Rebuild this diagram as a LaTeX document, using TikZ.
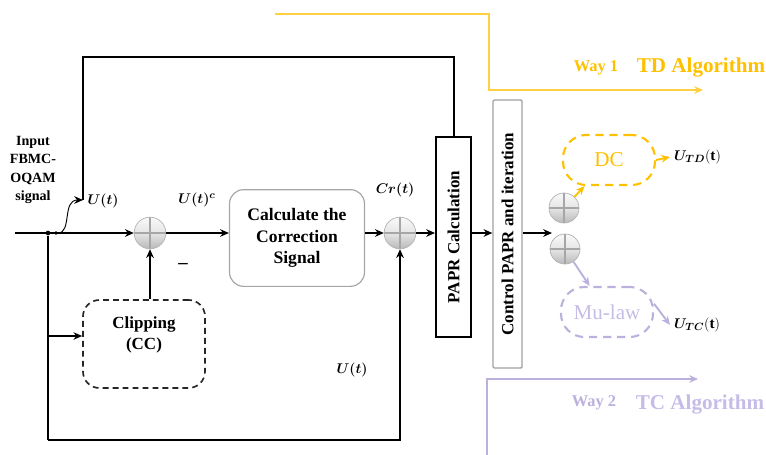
\documentclass[tikz,border=0pt]{standalone}
\usepackage{amsmath,amssymb}
\usepackage{fontspec}
\setmainfont{Liberation Serif}
\usepackage{tikz}
\usetikzlibrary{arrows.meta,positioning,calc}
\definecolor{tdgold}{HTML}{FFC000}
\definecolor{tcline}{HTML}{BCB0DC}
\definecolor{tctext}{HTML}{C6BCE8}

\begin{document}
\begin{tikzpicture}[
    x=0.03cm, y=-0.03cm,
    >={Stealth[length=7.5pt,width=6.5pt]},
    wire/.style={line width=1.7pt},
    sumnode/.style={circle, draw=gray!60, line width=0.6pt, top color=gray!5, bottom color=gray!55,
        middle color=gray!20, minimum size=#1, inner sep=0pt,
        path picture={\draw[gray!70, line width=0.9pt]
            (path picture bounding box.north) -- (path picture bounding box.south)
            (path picture bounding box.west) -- (path picture bounding box.east);}},
    sumnode/.default=0.95cm,
    dot/.style={circle, fill=black, inner sep=0pt, minimum size=4pt},
    calcbox/.style={draw=gray!70, line width=1pt, rounded corners=12pt, align=center,
        font=\fontsize{15}{18.5}\selectfont\bfseries, minimum width=4.05cm, minimum height=2.9cm},
    clipbox/.style={draw=black!85, line width=1.4pt, dash pattern=on 5pt off 3.5pt, rounded corners=14pt,
        align=center, font=\fontsize{14.5}{18}\selectfont\bfseries, minimum width=3.66cm, minimum height=2.64cm},
    paprbox/.style={draw, line width=1.7pt, rotate=90, inner sep=1pt,
        font=\fontsize{14.5}{17}\selectfont\bfseries, minimum width=6cm, minimum height=1.05cm},
    ctrlbox/.style={draw=gray!75, line width=1.1pt, rotate=90, inner sep=1pt, rounded corners=1pt,
        font=\fontsize{14.5}{17}\selectfont\bfseries, minimum width=8.04cm, minimum height=0.87cm},
    dcbox/.style={draw=tdgold, text=tdgold, line width=1.8pt, dash pattern=on 7pt off 5pt,
        rounded corners=0.7cm, font=\fontsize{18}{20}\selectfont, minimum width=2.76cm, minimum height=1.5cm},
    mubox/.style={dcbox, draw=tcline, text=tctext},
    siglabel/.style={font=\fontsize{13}{15}\selectfont},
    waylabel/.style={font=\fontsize{14}{16}\selectfont\bfseries},
    alglabel/.style={font=\fontsize{18}{20}\selectfont\bfseries}
]
    \useasboundingbox (0,0) rectangle (766,455);

    % Input and taps
    \coordinate (in) at (15,233);
    \node[dot] (j1) at (48,233) {};
    \node[dot, minimum size=3pt] (j2) at (56,233) {};
    \node[align=center, font=\fontsize{12}{15.7}\selectfont\bfseries] (input) at (33,170) {Input\\FBMC-\\OQAM\\signal};

    % Blocks
    \node[sumnode] (s1) at (150,233) {};
    \node[calcbox] (calc) at (297,238) {Calculate the\\Correction\\Signal};
    \node[sumnode] (s2) at (400,233) {};
    \node[clipbox] (clip) at (144,344) {Clipping\\(CC)\\~};
    \node[paprbox] (papr) at (453.5,237) {PAPR Calculation};
    \node[ctrlbox] (ctrl) at (507.5,234) {Control PAPR and iteration};

    % Two ways out
    \node[sumnode=0.9cm] (s3) at (564,208) {};
    \node[sumnode=0.9cm] (s4) at (565,249) {};
    \node[dcbox] (dc) at (609,160) {DC};
    \node[mubox] (mu) at (607,312) {Mu-law};
    \node[siglabel, anchor=west] (utd) at (670,157) {$\boldsymbol{U_{TD}}\mathbf{(t)}$};
    \node[siglabel, anchor=west] (utc) at (670,325) {$\boldsymbol{U_{TC}}\mathbf{(t)}$};

    % Signal labels
    \node[siglabel] (lu1) at (103,201) {$\boldsymbol{U(t)}$};
    \node[siglabel] (luc) at (197,200) {$\boldsymbol{U(t)^{c}}$};
    \node[siglabel] (lcr) at (395,190) {$\boldsymbol{Cr(t)}$};
    \node[siglabel] (lu2) at (352,370) {$\boldsymbol{U(t)}$};
    \node[font=\fontsize{16}{18}\selectfont\bfseries] (minus) at (183,266) {--};

    % Forward path
    \draw[wire,->] (in) -- (s1);
    \draw[wire,->] (s1) -- (s1 -| calc.west);
    \draw[wire,->] (calc.east |- s2) -- (s2);
    \draw[wire,->] (s2) -- (s2 -| papr.north);   % rotated: north is the left side
    \draw[wire,->] (papr.south |- s2) -- (s2 -| ctrl.north);
    \coordinate (sp) at (552,233);
    \draw[wire,->] (ctrl.south |- s2) -- (sp);

    % Feedback from the PAPR block
    \coordinate (fb) at (83,200);
    \coordinate (fbtop) at (83,57);
    \draw[wire] (papr.east) |- (fbtop) -- (fb);
    \draw[line width=0.8pt,->] (j2) .. controls (72,233) and (62,200) .. (fb);

    % Clipping branch
    \coordinate (cl) at (48,336);
    \coordinate (bot) at (48,440);
    \draw[wire] (j1) -- (bot);
    \draw[wire,->] (cl) -- (cl -| clip.west);
    \draw[wire,->] (clip.north -| s1) -- (s1);
    \draw[wire,->] (bot) -| (s2);

    % Way 1 / Way 2 outputs
    \draw[->, tdgold, line width=1.6pt] (s3) -- (dc);
    \draw[->, tdgold, line width=1.6pt] (dc.east) -- (utd.west);
    \draw[->, tcline, line width=1.6pt] (s4) -- (mu);
    \draw[->, tcline, line width=1.6pt] (mu.10) -- (utc.west);

    % Algorithm headings
    \coordinate (w1a) at (275,14);
    \coordinate (w1m) at (489,90);
    \coordinate (w1e) at (703,90);
    \draw[->, tdgold!75, line width=1.2pt] (w1a) -| (w1m) -- (w1e);
    \node[waylabel, text=tdgold] (way1) at (596,68) {Way 1};
    \node[alglabel, text=tdgold] (tdalg) at (701,68) {TD Algorithm};

    \coordinate (w2a) at (487,455);
    \coordinate (w2e) at (698,379);
    \draw[->, tcline, line width=1.2pt] (w2a) |- (w2e);
    \node[waylabel, text=tcline] (way2) at (594,403) {Way 2};
    \node[alglabel, text=tctext] (tcalg) at (700,405) {TC Algorithm};

\end{tikzpicture}
\end{document}
